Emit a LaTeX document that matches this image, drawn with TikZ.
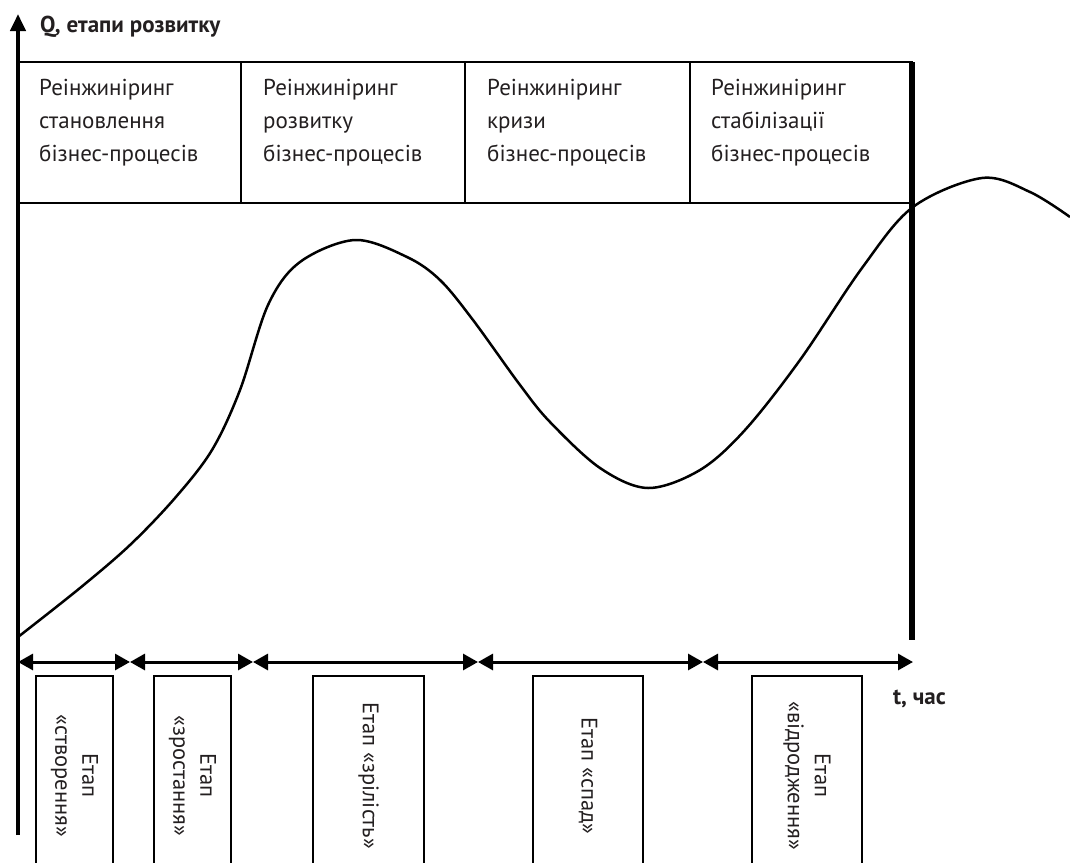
\documentclass[tikz,border=0pt]{standalone}
\usepackage{fontspec}
\setmainfont{PT Sans}
\usetikzlibrary{arrows.meta}

\definecolor{ink}{HTML}{231F20}

\tikzset{
    celltext/.style={anchor=north west, inner sep=0pt, align=left,
        font=\fontsize{23}{33}\selectfont, text=ink},
    stagebox/.style={draw, line width=1.5pt, rotate=-90, anchor=west,
        minimum width=200pt, align=center, inner sep=0pt,
        font=\fontsize{22.5}{27}\selectfont, text=ink},
    axislabel/.style={anchor=base west, inner sep=0pt,
        font=\fontsize{23}{27}\selectfont\bfseries, text=ink},
    span/.style={{Triangle[length=15pt,width=16pt]}-{Triangle[length=15pt,width=16pt]}, line width=3pt},
}

\begin{document}
\begin{tikzpicture}[x=1pt, y=-1pt]

    \clip (0,0) rectangle (1070,862);

    % Axis
    \coordinate (ybot) at (18,835);
    \coordinate (ytop) at (18,14);
    \draw[-{Triangle[length=17pt,width=15pt]}, line width=4pt] (ybot) -- (ytop);
    \node[axislabel] (qlab) at (40,32) {Q, етапи розвитку};

    % Table of reengineering stages
    \draw[line width=1.5pt] (18,62) rectangle (912,203);
    \foreach \x in {241, 465, 690}
        \draw[line width=1.5pt] (\x,62) -- (\x,203);

    \node[celltext] (r1) at (39,79) {Реінжиніринг\\становлення\\бізнес-процесів};
    \node[celltext] (r2) at (263,79) {Реінжиніринг\\розвитку\\бізнес-процесів};
    \node[celltext] (r3) at (487,79) {Реінжиніринг\\кризи\\бізнес-процесів};
    \node[celltext] (r4) at (711,79) {Реінжиніринг\\стабілізації\\бізнес-процесів};

    % Right border
    \draw[line width=6pt] (912,62) -- (912,640);

    % Life cycle curve
    \draw[line width=2.5pt, line join=round] plot[smooth, tension=0.55] coordinates {
        (18,637) (80,588) (130,545) (175,498) (212,450) (240,390)
        (268,305) (300,262) (355,240) (407,257) (440,280)
        (473,320) (520,385) (550,422) (600,468) (648,488) (700,470)
        (745,430) (800,360) (862,268) (913,207) (982,178) (1030,192)
        (1070,217)};

    % Time spans
    \coordinate (t0) at (18,662);
    \coordinate (t1) at (130,662);
    \coordinate (t2) at (253,662);
    \coordinate (t3) at (478,662);
    \coordinate (t4) at (703,662);
    \coordinate (t5) at (913,662);
    \foreach \a/\b in {t0/t1, t1/t2, t2/t3, t3/t4, t4/t5}
        \draw[span] (\a) -- (\b);
    \node[axislabel] (tlab) at (893,704) {t, час};

    % Stage boxes
    \node[stagebox, minimum height=77pt] (s1) at (74.5,675) {Етап\\«створення»};
    \node[stagebox, minimum height=77pt] (s2) at (192.5,675) {Етап\\«зростання»};
    \node[stagebox, minimum height=111pt] (s3) at (368.5,675) {Етап «зрілість»};
    \node[stagebox, minimum height=110pt] (s4) at (588,675) {Етап «спад»};
    \node[stagebox, minimum height=110pt] (s5) at (807,675) {Етап\\«відродження»};

\end{tikzpicture}
\end{document}
